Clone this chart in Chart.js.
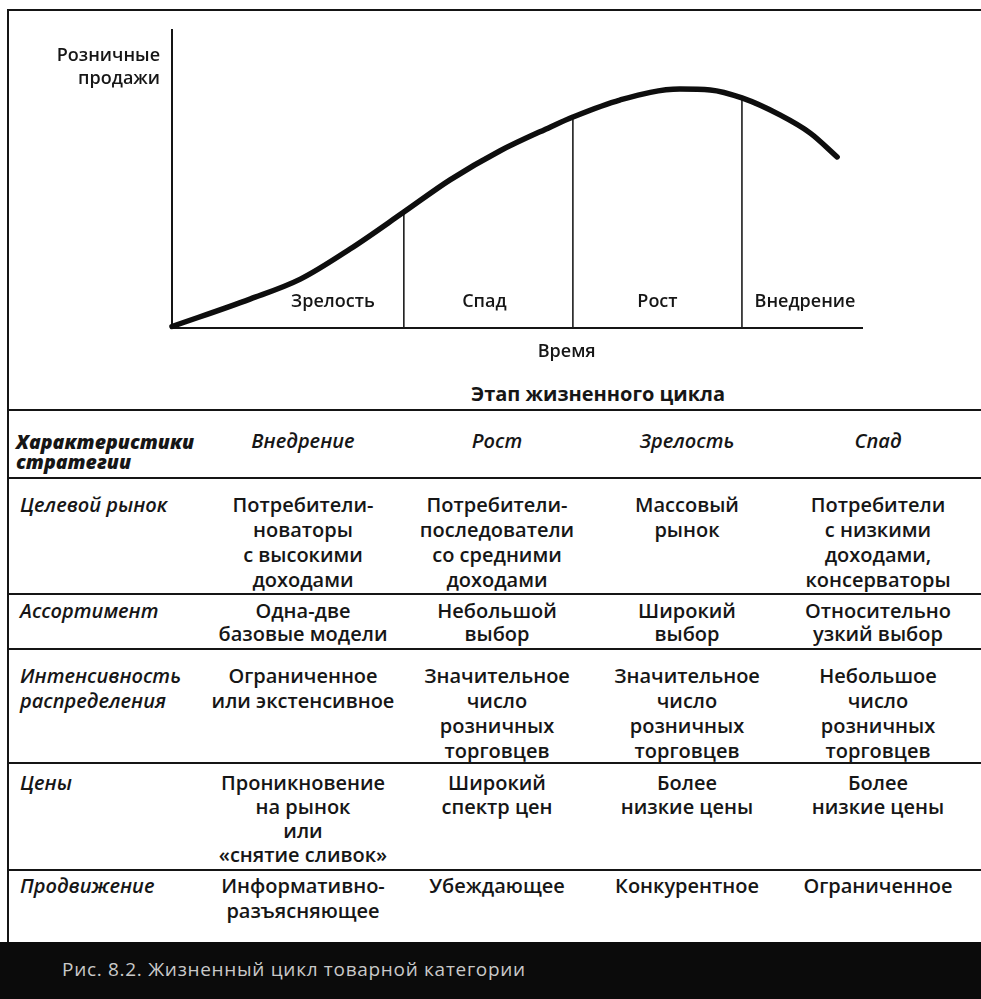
<!DOCTYPE html>
<html lang="ru">
<head>
<meta charset="utf-8">
<script src="https://cdn.jsdelivr.net/npm/chart.js@4/dist/chart.umd.min.js"></script>
<style>
  html,body{margin:0;padding:0;background:#fff;}
  body{width:981px;height:999px;position:relative;overflow:hidden;font-family:"Open Sans","Noto Sans",sans-serif;color:#161616;}
  .abs{position:absolute;}
  .hline{position:absolute;left:8px;width:973px;height:2px;background:#151515;}
  .cell{position:absolute;font-size:20px;font-weight:600;white-space:nowrap;}
  .c{text-align:center;transform:translateX(-50%);}
  .it{font-style:italic;}
</style>
</head>
<body>
<div class="abs" style="left:8px;top:9px;width:973px;height:2px;background:#151515"></div>
<div class="abs" style="left:7px;top:9px;width:2px;height:934px;background:#151515"></div>
<canvas id="c" class="abs" style="left:0;top:0" width="981" height="370"></canvas>
<div id="table"></div>
<div class="abs" style="left:0;top:942px;width:981px;height:57px;background:#0b0b0b"></div>
<div id="caption" class="abs" style="left:62px;top:956px;font-size:19px;line-height:26px;color:#c9c9c9;letter-spacing:0.7px"></div>
<script>
// ---- Curve data (time in arbitrary units, retail sales in arbitrary units) ----
const timeX   = [0, 11.3, 18.6, 25.8, 33.6, 40.3, 47.5, 54.8, 58.1, 64.9, 73.6, 78.0, 82.6, 88.1, 92.5, 96.4];
const salesY  = [0.5, 9.7, 16.4, 26.5, 38.9, 49.7, 59.4, 67.4, 70.8, 76.5, 80.2, 79.9, 77.2, 71.5, 65.4, 57.4];
const stageBounds = [33.6, 58.1, 82.6];
const curveStageLabels = ['Зрелость', 'Спад', 'Рост', 'Внедрение'];
const yAxisLabel = ['Розничные', 'продажи'];
const xAxisLabel = 'Время';

// ---- Table data ----
const tableTitle = 'Этап жизненного цикла';
const headerLabel = ['Характеристики', 'стратегии'];
const tableStages = ['Внедрение', 'Рост', 'Зрелость', 'Спад'];
const rowLabels = [['Целевой рынок'], ['Ассортимент'], ['Интенсивность', 'распределения'], ['Цены'], ['Продвижение']];
const rowIntro   = [['Потребители-', 'новаторы', 'с высокими', 'доходами'], ['Одна-две', 'базовые модели'], ['Ограниченное', 'или экстенсивное'], ['Проникновение', 'на рынок', 'или', '«снятие сливок»'], ['Информативно-', 'разъясняющее']];
const rowGrowth  = [['Потребители-', 'последователи', 'со средними', 'доходами'], ['Небольшой', 'выбор'], ['Значительное', 'число', 'розничных', 'торговцев'], ['Широкий', 'спектр цен'], ['Убеждающее']];
const rowMature  = [['Массовый', 'рынок'], ['Широкий', 'выбор'], ['Значительное', 'число', 'розничных', 'торговцев'], ['Более', 'низкие цены'], ['Конкурентное']];
const rowDecline = [['Потребители', 'с низкими', 'доходами,', 'консерваторы'], ['Относительно', 'узкий выбор'], ['Небольшое', 'число', 'розничных', 'торговцев'], ['Более', 'низкие цены'], ['Ограниченное']];
const captionText = 'Рис. 8.2. Жизненный цикл товарной категории';

// ---- Chart ----
const curvePts = timeX.map((t, i) => ({x: t, y: salesY[i]}));
const boundDatasets = stageBounds.map(b => {
  const i = timeX.indexOf(b);
  return {
    type: 'line',
    data: [{x: b, y: 0}, {x: b, y: salesY[i]}],
    borderColor: '#1c1c1c', borderWidth: 1.6, pointRadius: 0, tension: 0, clip: false
  };
});

const textPlugin = {
  id: 'texts',
  afterDraw(chart) {
    const {ctx, chartArea, scales: {x}} = chart;
    ctx.save();
    ctx.fillStyle = '#161616';
    ctx.font = '600 18px "Open Sans"';
    ctx.textBaseline = 'alphabetic';
    const edges = [x.min, ...stageBounds, x.max];
    const shift = [45, -4, 0, 3];
    ctx.textAlign = 'center';
    curveStageLabels.forEach((lbl, i) => {
      const cx = (x.getPixelForValue(edges[i]) + x.getPixelForValue(edges[i + 1])) / 2 + shift[i];
      ctx.fillText(lbl, cx, chartArea.bottom - 21);
    });
    ctx.fillText(xAxisLabel, x.getPixelForValue(57.2), chartArea.bottom + 29);
    ctx.textAlign = 'right';
    ctx.fillText(yAxisLabel[0], chartArea.left - 12, chartArea.top + 31);
    ctx.fillText(yAxisLabel[1], chartArea.left - 12, chartArea.top + 54);
    ctx.restore();
  }
};

new Chart(document.getElementById('c'), {
  type: 'line',
  data: {
    datasets: [{
      data: curvePts,
      borderColor: '#0e0e0e', borderWidth: 5.5, pointRadius: 0,
      cubicInterpolationMode: 'monotone', borderCapStyle: 'round', clip: false
    }, ...boundDatasets]
  },
  options: {
    responsive: false, animation: false, devicePixelRatio: 1,
    layout: {padding: {left: 172, top: 30, right: 119, bottom: 42}, autoPadding: false},
    plugins: {legend: {display: false}, tooltip: {enabled: false}, title: {display: false}},
    scales: {
      x: {type: 'linear', min: 0, max: 100,
          ticks: {display: false}, grid: {display: false, drawTicks: false},
          border: {display: true, color: '#151515', width: 2}},
      y: {type: 'linear', min: 0, max: 100,
          ticks: {display: false}, grid: {display: false, drawTicks: false},
          border: {display: true, color: '#151515', width: 2}}
    }
  },
  plugins: [textPlugin]
});

// ---- Table (HTML) ----
const tbl = document.getElementById('table');
function addDiv(cls, style, html) {
  const d = document.createElement('div');
  d.className = cls; d.setAttribute('style', style); d.innerHTML = html;
  tbl.appendChild(d); return d;
}
addDiv('cell c', 'left:598px;top:382px;line-height:24px;font-weight:700;', tableTitle);
const lineYs = [409, 477, 593, 648, 762, 869];
lineYs.forEach(yy => addDiv('hline', 'top:' + yy + 'px;', ''));
const colX = [303, 497, 687, 878];
addDiv('cell it', 'left:16px;top:432px;font-size:19.5px;font-weight:800;line-height:20px;', headerLabel.join('<br>'));
tableStages.forEach((s, i) => addDiv('cell c it', 'left:' + colX[i] + 'px;top:428px;line-height:25px;', s));
const rowTops = [492, 599, 663, 771, 873];
const rowLH = [25, 23, 25, 24, 25];
const cols = [rowIntro, rowGrowth, rowMature, rowDecline];
rowLabels.forEach((lbl, r) => {
  const st = 'top:' + rowTops[r] + 'px;line-height:' + rowLH[r] + 'px;';
  addDiv('cell it', 'left:20px;' + st, lbl.join('<br>'));
  cols.forEach((col, ci) => addDiv('cell c', 'left:' + colX[ci] + 'px;' + st, col[r].join('<br>')));
});
document.getElementById('caption').textContent = captionText;
</script>
</body>
</html>
